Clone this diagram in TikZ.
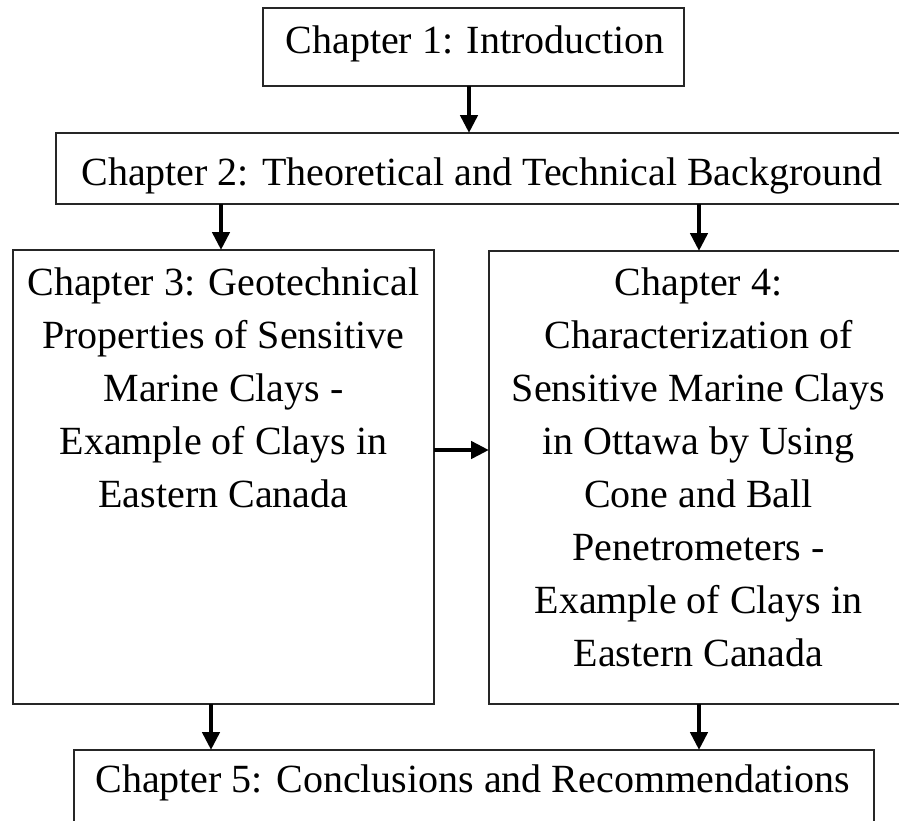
\documentclass[tikz,border=0pt]{standalone}
\usepackage{fontspec}
\setmainfont{Liberation Serif}
\usetikzlibrary{arrows.meta}
\begin{document}
\begin{tikzpicture}[x=1pt,y=-1pt,
  box/.style={draw=black!85, line width=2pt, inner sep=0pt, outer sep=0pt, fill=none},
  txt/.style={inner sep=0pt, outer sep=0pt, font=\fontsize{40}{53}\selectfont, align=center, text=black},
  arr/.style={line width=4.5pt, black, -{Triangle[length=18pt,width=17pt]}}]
\useasboundingbox (0,0) rectangle (899,820);
\clip (0,0) rectangle (899,820);
\fill[white] (0,0) rectangle (899,820);
% boxes
\node[box, minimum width=421, minimum height=78] (b1) at (473.5,47) {};
\node[box, minimum width=852, minimum height=71] (b2) at (482,168.5) {};
\node[box, minimum width=421, minimum height=454] (b3) at (223.5,477) {};
\node[box, minimum width=418, minimum height=453] (b4) at (698,477.5) {};
\node[box, minimum width=800, minimum height=110] (b5) at (474,805) {};
% texts
\node[txt, anchor=base] (t1) at (475,53) {Chapter 1: Introduction};
\node[txt, anchor=base] (t2) at (482,185) {Chapter 2: Theoretical and Technical Background};
\node[txt, anchor=north] (t3) at (223.5,268) {Chapter 3: Geotechnical\\Properties of Sensitive\\Marine Clays -\\Example of Clays in\\Eastern Canada};
\node[txt, anchor=north] (t4) at (698.5,268) {Chapter 4:\\Characterization of\\Sensitive Marine Clays\\in Ottawa by Using\\Cone and Ball\\Penetrometers -\\Example of Clays in\\Eastern Canada};
\node[txt, anchor=base] (t5) at (472.5,792) {Chapter 5: Conclusions and Recommendations};
% arrow columns
\coordinate (c1) at (469,0);
\coordinate (c2) at (221,0);
\coordinate (c3) at (699,0);
\coordinate (c5) at (211,0);
\coordinate (r4) at (0,450);
\draw[arr] (b1.south -| c1) -- (b2.north -| c1);
\draw[arr] (b2.south -| c2) -- (b3.north -| c2);
\draw[arr] (b2.south -| c3) -- (b4.north -| c3);
\draw[arr] (b3.east |- r4) -- (b4.west |- r4);
\draw[arr] (b3.south -| c5) -- (b5.north -| c5);
\draw[arr] (b4.south -| c3) -- (b5.north -| c3);
\end{tikzpicture}
\end{document}
